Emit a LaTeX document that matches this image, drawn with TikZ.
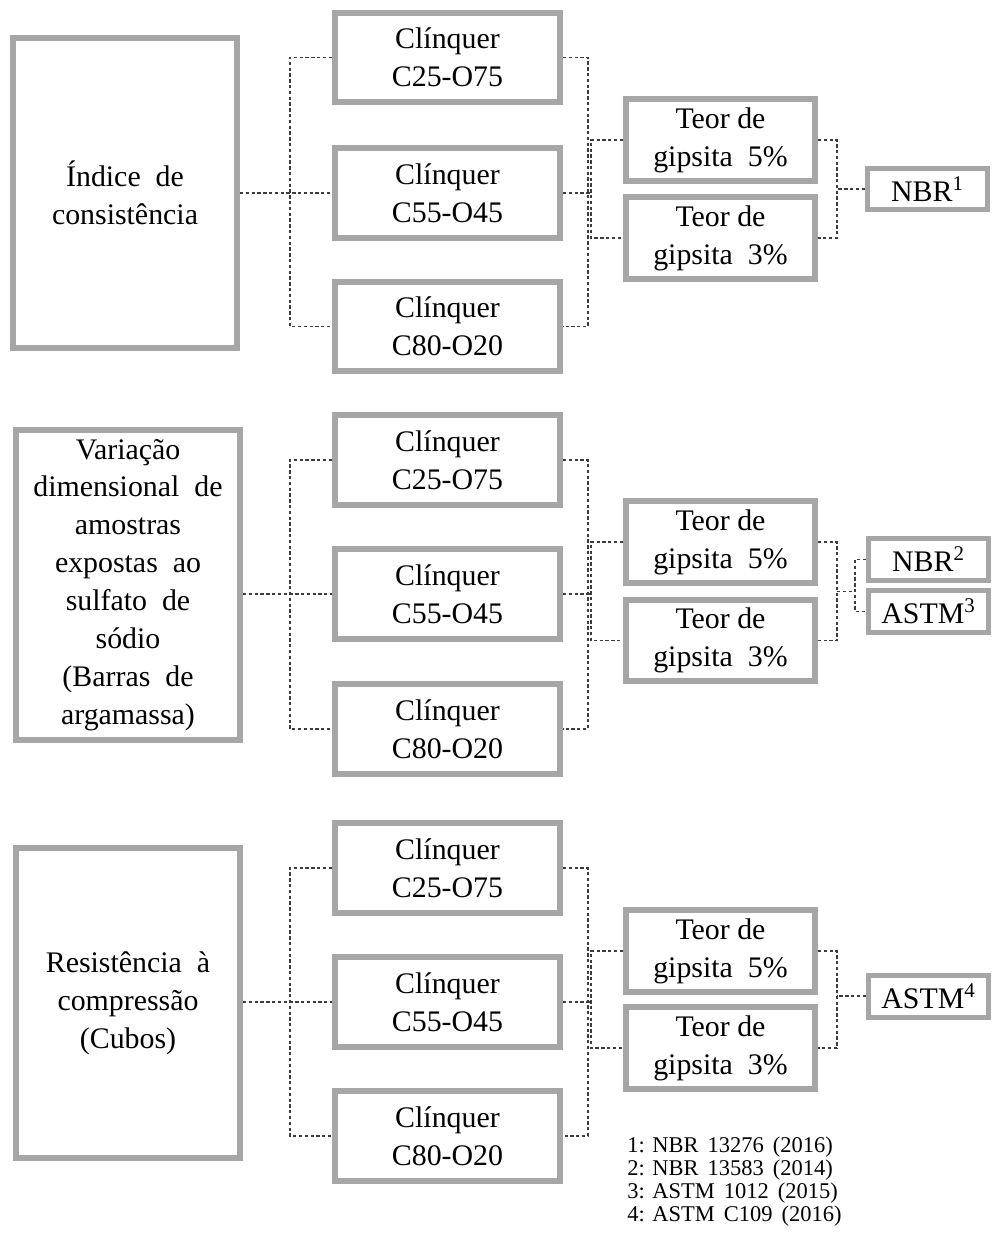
\documentclass[tikz,border=0pt]{standalone}
\usepackage{fontspec}
\setmainfont{Liberation Serif}
\usetikzlibrary{backgrounds,calc}
\definecolor{framegray}{RGB}{166,166,166}
\definecolor{linkgray}{RGB}{60,60,60}
\newcommand\wsp{\hspace{0.5em}}
\newcommand\nsp{\hspace{0.4em}}
\begin{document}
\begin{tikzpicture}[x=0.02cm,y=-0.02cm,
  every node/.style={font=\fontsize{17}{21.6}\selectfont, inner sep=0pt},
  frame/.style={draw=framegray, line width=0.12cm, fill=white, align=center},
  bigbox/.style={frame, minimum width=4.48cm, minimum height=6.2cm},
  clbox/.style={frame, minimum width=4.5cm, minimum height=1.8cm},
  teorbox/.style={frame, minimum width=3.78cm, minimum height=1.64cm},
  normbox/.style={frame, line width=0.1cm, minimum width=2.4cm, minimum height=0.84cm},
  link/.style={draw=linkgray, line width=0.65pt, dash pattern=on 1.9pt off 1.4pt},
  note/.style={font=\fontsize{12.8}{12.5}\selectfont, anchor=base west}
]
\useasboundingbox (0,0) rectangle (992,1246);

% ---------- Group 1: consistency ----------
\node[bigbox] (big1) at (125,193) {Índice\wsp de\\consistência};
\node[clbox] (c11) at (447.5,57.5) {Clínquer\\C25-O75};
\node[clbox] (c12) at (447.5,193) {Clínquer\\C55-O45};
\node[clbox] (c13) at (447.5,326.5) {Clínquer\\C80-O20};
\node[teorbox] (t11) at (720.5,140) {Teor de\\gipsita\wsp 5\%};
\node[teorbox] (t12) at (720.5,238) {Teor de\\gipsita\wsp 3\%};
\node[normbox] (n1) at (927.5,189) {NBR\textsuperscript{1}};

% ---------- Group 2: dimensional variation ----------
\node[bigbox] (big2) at (128,585) {Variação\\dimensional\wsp de\\amostras\\expostas\wsp ao\\sulfato\wsp de\\sódio\\(Barras\wsp de\\argamassa)};
\node[clbox] (c21) at (447.5,460) {Clínquer\\C25-O75};
\node[clbox] (c22) at (447.5,594) {Clínquer\\C55-O45};
\node[clbox] (c23) at (447.5,729) {Clínquer\\C80-O20};
\node[teorbox] (t21) at (720.5,542) {Teor de\\gipsita\wsp 5\%};
\node[teorbox] (t22) at (720.5,640.5) {Teor de\\gipsita\wsp 3\%};
\node[normbox] (n2) at (928.5,559.5) {NBR\textsuperscript{2}};
\node[normbox] (a3) at (928.5,611.5) {ASTM\textsuperscript{3}};

% ---------- Group 3: compressive strength ----------
\node[bigbox] (big3) at (128,1003) {Resistência\wsp à\\compressão\\(Cubos)};
\node[clbox] (c31) at (447.5,868) {Clínquer\\C25-O75};
\node[clbox] (c32) at (447.5,1002) {Clínquer\\C55-O45};
\node[clbox] (c33) at (447.5,1136) {Clínquer\\C80-O20};
\node[teorbox] (t31) at (720.5,951) {Teor de\\gipsita\wsp 5\%};
\node[teorbox] (t32) at (720.5,1048) {Teor de\\gipsita\wsp 3\%};
\node[normbox] (a4) at (928.5,996) {ASTM\textsuperscript{4}};

% ---------- references ----------
\node[note] (r1) at (627,1152) {1: NBR\nsp 13276\nsp (2016)};
\node[note] (r2) at (627,1175) {2: NBR\nsp 13583\nsp (2014)};
\node[note] (r3) at (627,1198) {3: ASTM\nsp 1012\nsp (2015)};
\node[note] (r4) at (627,1221) {4: ASTM\nsp C109\nsp (2016)};

% ---------- dashed connectors ----------
\begin{scope}[on background layer]
  \foreach \g in {1,2,3} {
    \coordinate (lb\g) at ([xshift=-0.84cm]c\g1.west);
    \coordinate (tl\g) at ([xshift=-0.64cm]t\g1.west);
    \coordinate (tr\g) at ([xshift=0.38cm]t\g1.east);
    \coordinate (mid\g) at ($(t\g1.east)!0.5!(t\g2.east)$);
    \draw[link] (big\g.east |- c\g2.west) -- (c\g2.west);
    \draw[link] (c\g1.west) -- (lb\g) |- (c\g3.west);
    \draw[link] (c\g1.east) -- ++(25,0) |- (c\g3.east);
    \draw[link] (c\g2.east) -- (c\g2.east -| tl\g);
    \draw[link] (t\g1.west) -- (tl\g) |- (t\g2.west);
    \draw[link] (t\g1.east) -- (tr\g) |- (t\g2.east);
  }
  \draw[link] (n1.west) -- (n1.west -| tr1);
  \coordinate (nb2) at ([xshift=0.36cm]tr2);
  \draw[link] (mid2 -| tr2) -- (mid2 -| nb2);
  \draw[link] (n2.west) -- (n2.west -| nb2) |- (a3.west);
  \draw[link] (a4.west) -- (a4.west -| tr3);
\end{scope}
\end{tikzpicture}
\end{document}
